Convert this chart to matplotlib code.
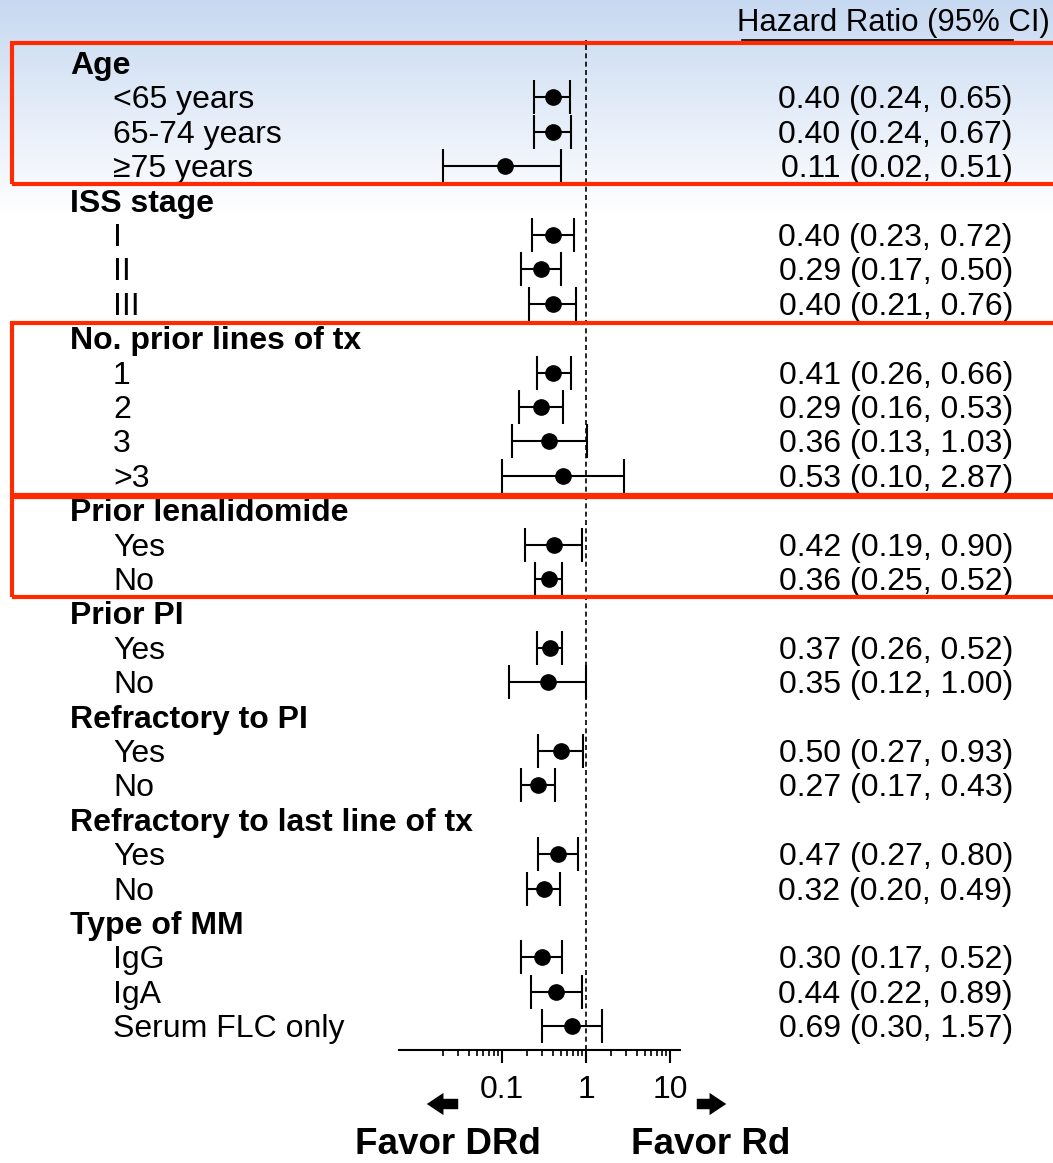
import numpy as np
import matplotlib
matplotlib.use("Agg")
import matplotlib.pyplot as plt
from matplotlib.patches import Rectangle, FancyArrowPatch

plt.rcParams['font.family'] = ['Liberation Sans', 'DejaVu Sans']

W, H = 1053, 1163

# rows: (label, is_header)
labels = ["Age", "<65 years", "65-74 years", "≥75 years",
          "ISS stage", "I", "II", "III",
          "No. prior lines of tx", "1", "2", "3", ">3",
          "Prior lenalidomide", "Yes", "No",
          "Prior PI", "Yes", "No",
          "Refractory to PI", "Yes", "No",
          "Refractory to last line of tx", "Yes", "No",
          "Type of MM", "IgG", "IgA", "Serum FLC only"]
headers = [0, 4, 8, 13, 16, 19, 22, 25]

# hazard ratios and 95% CI (None for header rows)
hr = [None, 0.40, 0.40, 0.11,
      None, 0.40, 0.29, 0.40,
      None, 0.41, 0.29, 0.36, 0.53,
      None, 0.42, 0.36,
      None, 0.37, 0.35,
      None, 0.50, 0.27,
      None, 0.47, 0.32,
      None, 0.30, 0.44, 0.69]
lo = [None, 0.24, 0.24, 0.02,
      None, 0.23, 0.17, 0.21,
      None, 0.26, 0.16, 0.13, 0.10,
      None, 0.19, 0.25,
      None, 0.26, 0.12,
      None, 0.27, 0.17,
      None, 0.27, 0.20,
      None, 0.17, 0.22, 0.30]
hi = [None, 0.65, 0.67, 0.51,
      None, 0.72, 0.50, 0.76,
      None, 0.66, 0.53, 1.03, 2.87,
      None, 0.90, 0.52,
      None, 0.52, 1.00,
      None, 0.93, 0.43,
      None, 0.80, 0.49,
      None, 0.52, 0.89, 1.57]


def fx(x):
    return x / W


def fy(y):
    return 1 - y / H


fig = plt.figure(figsize=(W / 100, H / 100), dpi=100)

# background gradient at the top
bg = fig.add_axes([0, 0, 1, 1], zorder=0)
bg.axis("off")
t = np.clip(np.linspace(0, 1, H) / (215 / H), 0, 1)[:, None]
top = np.array([0.78, 0.85, 0.945])
img = top[None, None, :] * (1 - t[:, :, None]) + np.ones(3)[None, None, :] * t[:, :, None]
bg.imshow(img, aspect="auto", extent=[0, 1, 0, 1])

# forest axes
row0, dy = 63, 34.4
ytop = (40 - row0) / dy
ybot = (1050 - row0) / dy
xl, xr = 0.006, 13.0
left_px = 586 + 84 * np.log10(xl)
ax = fig.add_axes([fx(left_px), fy(1050), (84 * (np.log10(xr) - np.log10(xl))) / W, 1010 / H], zorder=2)
ax.patch.set_alpha(0)
ax.set_xscale("log")
ax.set_xlim(xl, xr)
ax.set_ylim(ybot, ytop)
for s in ["top", "right", "left"]:
    ax.spines[s].set_visible(False)
ax.spines["bottom"].set_linewidth(1.5)
ax.set_yticks([])
ax.set_xticks([0.1, 1, 10])
ax.set_xticklabels(["0.1", "1", "10"], fontsize=23)
minors = [m * d for d in (0.01, 0.1, 1) for m in range(2, 10)]
ax.set_xticks(minors, minor=True)
ax.xaxis.set_minor_formatter(plt.NullFormatter())
ax.tick_params(axis="x", which="major", length=9, width=1.5, pad=9)
ax.tick_params(axis="x", which="minor", length=4, width=1.2)
ax.axvline(1, color="black", linestyle=(0, (3, 2)), linewidth=1.2)

for i in range(len(labels)):
    if hr[i] is None:
        continue
    ax.errorbar(hr[i], i, xerr=[[hr[i] - lo[i]], [hi[i] - hr[i]]], fmt="o",
                color="black", markersize=11, elinewidth=1.5, capsize=12, capthick=1.5)

# text columns (baseline sits 11 px below the row centre)
for i, lab in enumerate(labels):
    y = fy(row0 + dy * i + 11)
    if i in headers:
        fig.text(fx(70), y, lab, fontsize=23, fontweight="bold", va="baseline", zorder=3)
    else:
        fig.text(fx(113), y, lab, fontsize=23, va="baseline", zorder=3)
        fig.text(fx(1013), y, f"{hr[i]:.2f} ({lo[i]:.2f}, {hi[i]:.2f})",
                 fontsize=23, va="baseline", ha="right", zorder=3)

fig.text(fx(737), fy(31), "Hazard Ratio (95% CI)", fontsize=22.4, va="baseline", zorder=3)
fig.add_artist(plt.Line2D([fx(742), fx(1013)], [fy(40), fy(40)], color="black", linewidth=1.2))

# red highlight boxes
for y0, y1 in [(43, 184), (323, 495), (497, 597)]:
    fig.add_artist(Rectangle((fx(12), fy(y1)), fx(1070) - fx(12), fy(y0) - fy(y1),
                             fill=False, edgecolor="#ff2a00", linewidth=3, zorder=4))

# arrows and favor labels
for x0, x1 in [(461, 424), (694, 729)]:
    fig.add_artist(FancyArrowPatch((fx(x0), fy(1104)), (fx(x1), fy(1104)),
                                   arrowstyle="simple,head_width=1.6,head_length=1.2,tail_width=0.75",
                                   mutation_scale=10, color="black", linewidth=0))
fig.text(fx(448), fy(1145), "Favor DRd", fontsize=26.5, fontweight="bold", ha="center", va="center")
fig.text(fx(711), fy(1145), "Favor Rd", fontsize=26.5, fontweight="bold", ha="center", va="center")

fig.savefig("out.png", dpi=100)
